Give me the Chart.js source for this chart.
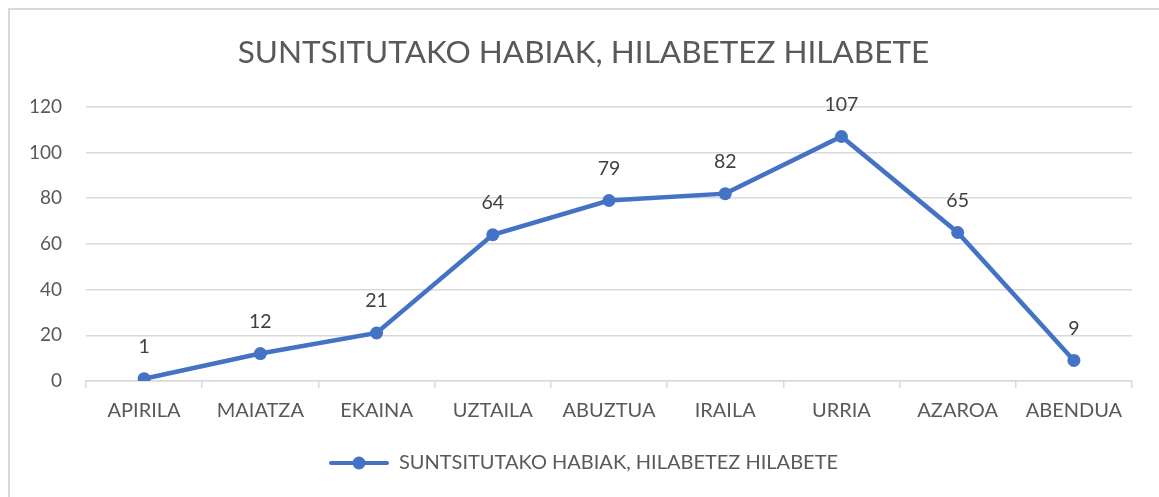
<!DOCTYPE html>
<html>
<head>
<meta charset="utf-8">
<script src="https://cdn.jsdelivr.net/npm/chart.js@4"></script>
<style>
  body { margin: 0; background: #fff; }
  #wrap { position: relative; width: 1159px; height: 497px; }
  #frame { position: absolute; left: 8px; top: 8px; width: 1160px; height: 500px; border: 2px solid #d9d9d9; pointer-events: none; }
</style>
</head>
<body>
<div id="wrap">
  <canvas id="chart" width="1159" height="497"></canvas>
  <div id="frame"></div>
</div>
<script>
const months = ['APIRILA', 'MAIATZA', 'EKAINA', 'UZTAILA', 'ABUZTUA', 'IRAILA', 'URRIA', 'AZAROA', 'ABENDUA'];
const nests = [1, 12, 21, 64, 79, 82, 107, 65, 9];
const seriesName = 'SUNTSITUTAKO HABIAK, HILABETEZ HILABETE';

const blue = '#4472C4';
const font = 'Lato, "Liberation Sans", sans-serif';

// legend marker: line with a dot in the middle
const marker = document.createElement('canvas');
marker.width = 60;
marker.height = 16;
const m = marker.getContext('2d');
m.strokeStyle = blue;
m.lineWidth = 4;
m.lineCap = 'round';
m.beginPath();
m.moveTo(2, 8);
m.lineTo(58, 8);
m.stroke();
m.fillStyle = blue;
m.beginPath();
m.arc(30, 8, 6.5, 0, Math.PI * 2);
m.fill();

// value labels above the points
const valueLabels = {
    id: 'valueLabels',
    afterDatasetsDraw(chart) {
        const ctx = chart.ctx;
        const meta = chart.getDatasetMeta(0);
        ctx.save();
        ctx.font = '19.5px ' + font;
        ctx.fillStyle = '#404040';
        ctx.textAlign = 'center';
        ctx.textBaseline = 'middle';
        meta.data.forEach((pt, i) => {
            ctx.fillText(String(nests[i]), pt.x, pt.y - 32);
        });
        ctx.restore();
    }
};

new Chart(document.getElementById('chart').getContext('2d'), {
    type: 'line',
    data: {
        labels: months,
        datasets: [{
            label: seriesName,
            data: nests,
            borderColor: blue,
            backgroundColor: blue,
            borderWidth: 4.5,
            pointRadius: 6.5,
            pointBackgroundColor: blue,
            pointBorderWidth: 0,
            tension: 0
        }]
    },
    options: {
        responsive: false,
        animation: false,
        layout: {
            padding: { left: 8, right: 0, top: 0, bottom: 14 }
        },
        scales: {
            x: {
                offset: true,
                grid: {
                    offset: true,
                    drawOnChartArea: false,
                    drawTicks: true,
                    tickLength: 7,
                    color: '#d9d9d9',
                    lineWidth: 1.5
                },
                border: { color: '#d9d9d9', width: 1.5 },
                ticks: {
                    color: '#595959',
                    font: { family: font, size: 20 },
                    padding: 11,
                    maxRotation: 0
                }
            },
            y: {
                min: 0,
                max: 120,
                afterFit(scale) { scale.width = 78; },
                grid: {
                    color: '#d9d9d9',
                    lineWidth: 1.5,
                    drawTicks: false
                },
                border: { display: false },
                ticks: {
                    stepSize: 20,
                    color: '#595959',
                    font: { family: font, size: 19 },
                    padding: 24
                }
            },
            // empty right axis, only keeps the space on the right
            yRight: {
                position: 'right',
                afterFit(scale) { scale.width = 27; },
                grid: { display: false },
                border: { display: false },
                ticks: { display: false }
            }
        },
        plugins: {
            title: {
                display: true,
                text: seriesName,
                color: '#595959',
                font: { family: font, size: 31.5, weight: 'normal' },
                padding: { top: 34, bottom: 35 }
            },
            legend: {
                position: 'bottom',
                labels: {
                    color: '#595959',
                    font: { family: font, size: 20 },
                    usePointStyle: true,
                    pointStyleWidth: 60,
                    padding: 19,
                    generateLabels() {
                        return [{
                            text: seriesName,
                            pointStyle: marker,
                            fillStyle: blue,
                            strokeStyle: blue,
                            lineWidth: 0,
                            fontColor: '#595959',
                            datasetIndex: 0
                        }];
                    }
                }
            },
            tooltip: { enabled: false }
        }
    },
    plugins: [valueLabels]
});
</script>
</body>
</html>
